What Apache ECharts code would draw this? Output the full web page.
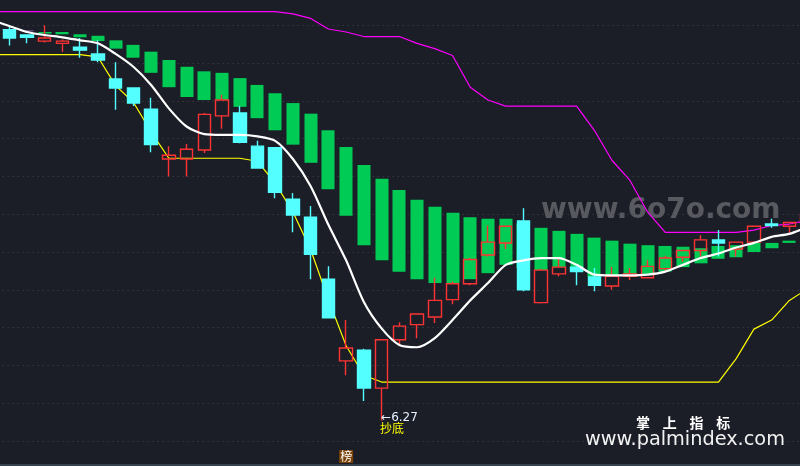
<!DOCTYPE html>
<html><head><meta charset="utf-8">
<script src="https://cdn.jsdelivr.net/npm/echarts@6/dist/echarts.min.js"></script>
<style>html,body{margin:0;padding:0;background:#1b1e27}#c{width:800px;height:466px}</style>
</head><body><div id="c"></div>
<script>
// [open, close, low, high]; the first entry lies just left of the visible window
const candles = [
[11.55,11.50,11.45,11.60],
[11.44,11.33,11.23,11.48],[11.37,11.34,11.26,11.37],[11.29,11.33,11.27,11.50],[11.26,11.29,11.15,11.31],
[11.21,11.17,11.07,11.33],[11.12,11.04,11.01,11.30],[10.79,10.67,10.38,11.01],[10.67,10.47,10.43,10.68],
[10.39,9.92,9.82,10.54],[9.73,9.78,9.50,9.90],[9.73,9.86,9.50,9.93],[9.85,10.32,9.81,10.34],
[10.30,10.51,10.13,10.58],[10.34,9.95,9.94,10.43],[9.90,9.61,9.61,9.97],[9.88,9.29,9.21,9.88],
[9.20,8.99,8.76,9.28],[8.96,8.47,8.14,9.11],[8.14,7.63,7.63,8.31],[7.06,7.23,6.87,7.60],
[7.20,6.70,6.53,7.22],[6.70,7.34,6.27,7.35],[7.34,7.52,7.28,7.57],[7.54,7.68,7.36,7.68],
[7.64,7.86,7.56,8.16],[7.87,8.08,7.81,8.11],[8.08,8.40,8.06,8.42],[8.46,8.63,8.44,8.85],
[8.62,8.84,8.54,8.84],[8.91,8.00,7.98,9.08],[7.83,8.26,7.82,8.28],[8.21,8.30,8.18,8.42],
[8.30,8.24,8.06,8.34],[8.17,8.06,7.98,8.29],[8.05,8.18,8.00,8.30],[8.18,8.21,8.13,8.29],
[8.16,8.31,8.16,8.39],[8.28,8.42,8.25,8.45],[8.43,8.52,8.37,8.52],[8.52,8.66,8.44,8.72],
[8.66,8.62,8.44,8.79],[8.54,8.63,8.44,8.63],[8.63,8.84,8.63,8.85],[8.87,8.85,8.82,8.94],
[8.84,8.89,8.75,8.89],[8.88,8.99,8.88,8.99]];
const bandTop = [11.47,11.45,11.43,11.41,11.41,11.38,11.36,11.30,11.24,11.15,11.04,10.95,10.89,10.87,10.80,10.71,10.60,10.47,10.33,10.11,9.89,9.65,9.47,9.32,9.19,9.10,9.02,8.96,8.94,8.94,8.88,8.82,8.78,8.74,8.69,8.65,8.61,8.59,8.58,8.57,8.55,8.58,8.59,8.62,8.62,8.65,8.69];
const bandBottom = [11.46,11.44,11.42,11.39,11.38,11.34,11.29,11.19,11.07,10.87,10.68,10.55,10.51,10.51,10.42,10.27,10.11,9.92,9.68,9.33,8.98,8.59,8.39,8.24,8.14,8.09,8.09,8.14,8.22,8.33,8.29,8.26,8.30,8.24,8.17,8.18,8.21,8.21,8.24,8.30,8.35,8.41,8.43,8.50,8.55,8.62,8.67];
const midLine = [11.57,11.49,11.41,11.37,11.34,11.30,11.26,11.12,10.95,10.71,10.40,10.16,10.06,10.05,10.05,10.03,9.97,9.73,9.37,8.86,8.39,7.84,7.49,7.27,7.24,7.36,7.60,7.86,8.09,8.33,8.39,8.42,8.42,8.33,8.20,8.19,8.19,8.20,8.24,8.33,8.42,8.48,8.56,8.62,8.70,8.74,8.83];
const upperLine = [11.68,11.68,11.68,11.68,11.68,11.68,11.68,11.68,11.68,11.68,11.68,11.68,11.68,11.68,11.68,11.68,11.68,11.65,11.59,11.45,11.41,11.35,11.35,11.35,11.26,11.19,11.10,10.68,10.51,10.43,10.43,10.43,10.43,10.43,10.11,9.71,9.45,9.03,8.76,8.76,8.76,8.76,8.76,8.79,8.85,8.87,8.92];
const lowerLine = [11.11,11.11,11.11,11.11,11.11,11.11,11.08,10.70,10.48,10.09,9.74,9.74,9.74,9.74,9.74,9.70,9.41,9.03,8.53,7.87,7.26,6.87,6.78,6.78,6.78,6.78,6.78,6.78,6.78,6.78,6.78,6.78,6.78,6.78,6.78,6.78,6.78,6.78,6.78,6.78,6.78,6.78,7.09,7.48,7.60,7.86,8.01];
const purpleBands = [0,1,2,46];
const categories = candles.map((_, i) => String(i));

const chart = echarts.init(document.getElementById('c'), null, {renderer:'canvas'});
const lineSeries = (name, data, color, width, z, smooth) => ({
  name, type:'line', data, symbol:'none', smooth:smooth||false, z, animation:false, silent:true,
  lineStyle:{color, width}
});
chart.setOption({
  animation:false,
  backgroundColor:'#1b1e27',
  grid:{outerBoundsMode:'none', containLabel:false, left:-17.33, top:-12.6, width:833.3, height:491.4},
  xAxis:{type:'category', data:categories, show:false, boundaryGap:true},
  yAxis:{type:'value', min:5.5, max:12, interval:0.5,
    axisLine:{show:false}, axisTick:{show:false}, axisLabel:{show:false},
    splitLine:{show:true, lineStyle:{color:'#43464d', width:1, type:[1,4]}}},
  graphic:[
    {type:'text', z:0, left:541, top:197, style:{text:'www.6o7o.com', fill:'#585a60',
      font:'bold 28px "DejaVu Sans"'}},
    {type:'text', z:10, left:636, top:416, style:{text:'掌    上    指    标', fill:'#ffffff',
      font:'bold 14px "Noto Sans CJK SC"'}},
    {type:'text', z:10, left:585, top:430, style:{text:'www.palmindex.com', fill:'#f2f2f2',
      font:'19.3px "DejaVu Sans"'}},
    {type:'rect', z:10, shape:{x:0,y:464,width:800,height:2}, style:{fill:'#36424e'}}
  ],
  series:[
    {name:'band', type:'candlestick', barWidth:13.5, z:2, silent:true,
      data:bandBottom.map((b,i)=>{
        const c = purpleBands.includes(i) ? '#a56fc4' : '#00cc55';
        return {value:[b,bandTop[i],b,bandTop[i]], itemStyle:{color:c,color0:c,borderColor:c,borderColor0:c,borderWidth:0}};
      })},
    lineSeries('lower', lowerLine, '#ffff00', 1.2, 3),
    lineSeries('upper', upperLine, '#ff00ff', 1.2, 3),
    {name:'k', type:'candlestick', data:candles, barWidth:13, z:4, silent:true,
      itemStyle:{color:'transparent', color0:'#54ffff', borderColor:'#ff3333', borderColor0:'#54ffff', borderWidth:1.4},
      markPoint:{symbol:'circle', symbolSize:1, silent:true, animation:false, itemStyle:{color:'transparent'},
        data:[
          {coord:[22,6.30], label:{show:true, position:'right', distance:-1, formatter:'←6.27', color:'#e6f0ff', fontSize:12, fontFamily:'"DejaVu Sans"'}},
          {coord:[22,6.17], label:{show:true, position:'right', distance:-2, formatter:'抄底', color:'#ffff00', fontSize:12, fontFamily:'"Noto Sans CJK SC"'}},
          {coord:[20,5.795], label:{show:true, position:'inside', formatter:'榜', color:'#ffffff', fontSize:12, fontFamily:'"Noto Sans CJK SC"', backgroundColor:'#7a4208', padding:[1,1,0,1]}}
        ]}},
    lineSeries('mid', midLine, '#ffffff', 2.2, 5, 0.25)
  ]
});
</script></body></html>
